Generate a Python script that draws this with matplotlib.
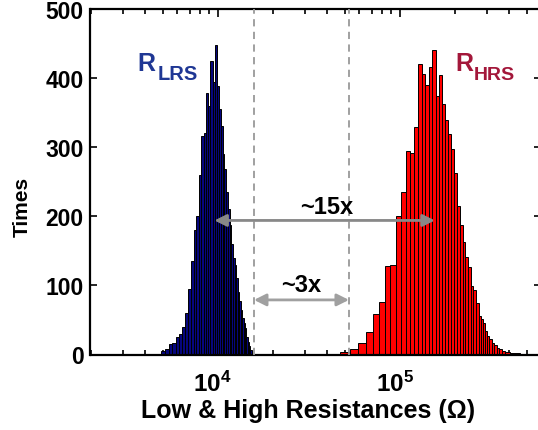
import matplotlib
matplotlib.use("Agg")
import matplotlib.pyplot as plt
import matplotlib.transforms as mtrans
import numpy as np
from matplotlib.ticker import FixedLocator, LogLocator, FuncFormatter, NullFormatter

plt.rcParams['font.family'] = ['Liberation Sans', 'DejaVu Sans']
plt.rcParams['font.weight'] = 'bold'
plt.rcParams['mathtext.fontset'] = 'custom'
plt.rcParams['mathtext.rm'] = 'Liberation Sans:bold'
plt.rcParams['mathtext.bf'] = 'Liberation Sans:bold'
plt.rcParams['mathtext.it'] = 'Liberation Sans:bold'

# ---- data ----
lrs_edges = [4875, 5125, 5375, 5625, 5875, 6125, 6375, 6625, 6875, 7125, 7375,
             7625, 7875, 8125, 8375, 8625, 8875, 9125, 9375, 9625, 9875,
             10125, 10375, 10625, 10875, 11125, 11375, 11625, 11875, 12125, 12375,
             12625, 12875, 13125, 13375, 13625, 13875, 14125, 14375, 14625, 14875,
             15125, 15375]
lrs_counts = [5, 8, 15, 17, 25, 29, 40, 60, 95, 135,
              180, 200, 260, 316, 320, 379, 360, 425, 395, 448,
              388, 355, 330, 290, 268, 235, 210, 188, 160, 140,
              129, 110, 90, 78, 65, 53, 45, 38, 25, 18,
              12, 6]

hrs_edges = [39600, 46750, 53060, 58970, 65020, 71330, 76960, 83400, 88840, 95060,
             102100, 107900, 114500, 119400, 126200, 132200, 138400, 144400, 151300,
             157800, 163900, 171000, 177700, 184500, 191600, 199100, 206800, 213900,
             221300, 228900, 236700, 244900, 253300, 262000, 271000, 280300, 287500,
             294900, 302500, 310200, 319400, 329000, 340400, 352100, 362600, 378300,
             403100, 457500]
hrs_counts = [1, 3, 8, 17, 33, 59, 76, 128, 130, 200,
              235, 295, 292, 329, 420, 406, 390, 416, 440, 374,
              404, 362, 340, 319, 297, 263, 215, 188, 163, 141,
              127, 99, 94, 75, 56, 52, 46, 34, 27, 22,
              17, 14, 10, 8, 5, 4, 2]

window_bounds = [15820, 52600]      # dashed lines
arrow_15x = [9590, 155800, 194]     # x1, x2, y
arrow_3x = [15820, 52600, 79]

fig = plt.figure(figsize=(5.38, 4.31), dpi=100)
ax = fig.add_axes([90.5/538, (431-355.5)/431, (541.4-90.5)/538, 345.5/431])
ax.set_xscale('log')

le = np.array(lrs_edges, dtype=float)
ax.bar(le[:-1], lrs_counts, width=np.diff(le), align='edge',
       color='#06067e', edgecolor='black', linewidth=0.7, zorder=2)
he = np.array(hrs_edges, dtype=float)
ax.bar(he[:-1], hrs_counts, width=np.diff(he), align='edge',
       color='#ff0000', edgecolor='black', linewidth=0.7, zorder=2)

for xv in window_bounds:
    ax.axvline(xv, color='#999999', linestyle=(0, (4, 3)), linewidth=1.3, zorder=3)

arrow_kw = dict(arrowstyle='<|-|>', color='#888888', lw=2, mutation_scale=18,
                shrinkA=0, shrinkB=0)
ax.annotate('', xy=(arrow_15x[0], arrow_15x[2]), xytext=(arrow_15x[1], arrow_15x[2]),
            arrowprops=arrow_kw, zorder=4)
ax.annotate('', xy=(arrow_3x[0], arrow_3x[2]), xytext=(arrow_3x[1], arrow_3x[2]),
            arrowprops=dict(arrow_kw, color='#a0a0a0'), zorder=4)

ax.text(39900, 214, '~15x', ha='center', va='center', fontsize=17, fontweight='bold')
ax.text(28800, 101, '~3x', ha='center', va='center', fontsize=17, fontweight='bold')

lrs_color = '#1f3794'
hrs_color = '#a3173a'
ax.text(3614, 412, 'R', color=lrs_color, fontsize=18, fontweight='bold',
        ha='left', va='baseline')
ax.text(4690, 399, 'LRS', color=lrs_color, fontsize=14.5, fontweight='bold',
        ha='left', va='baseline')
ax.text(203200, 412, 'R', color=hrs_color, fontsize=18, fontweight='bold',
        ha='left', va='baseline')
ax.text(256000, 399, 'HRS', color=hrs_color, fontsize=14, fontweight='bold',
        ha='left', va='baseline')

ax.set_xlim(2000, 6e5)
ax.set_ylim(0, 500)
ax.set_yticks([0, 100, 200, 300, 400, 500])
ax.xaxis.set_major_locator(FixedLocator([1e4, 1e5]))
ax.xaxis.set_major_formatter(FuncFormatter(lambda v, p: r'$\mathbf{10^{%d}}$' % int(round(np.log10(v)))))
ax.xaxis.set_minor_locator(LogLocator(base=10, subs=np.arange(2, 10), numticks=20))
ax.xaxis.set_minor_formatter(NullFormatter())

ax.tick_params(axis='both', which='both', direction='in', top=True, right=True, width=1.2)
ax.tick_params(axis='x', which='major', length=6, labelsize=17.5, pad=11.5)
ax.tick_params(axis='x', which='minor', length=3.5)
ax.tick_params(axis='y', which='major', length=5, labelsize=16.5, pad=5)
for lab in ax.get_yticklabels():
    lab.set_fontweight('bold')
for s in ax.spines.values():
    s.set_linewidth(1.6)

shift = mtrans.ScaledTranslation(-5/100, 0, fig.dpi_scale_trans)
for lab in ax.xaxis.get_majorticklabels():
    lab.set_transform(lab.get_transform() + shift)

ax.set_xlabel('Low & High Resistances (Ω)', fontsize=18, fontweight='bold')
ax.xaxis.set_label_coords(0.482, -0.125)
ax.set_ylabel('Times', fontsize=15, fontweight='bold')
ax.yaxis.set_label_coords(-0.13, 0.43)

fig.savefig('out.png', dpi=100)
